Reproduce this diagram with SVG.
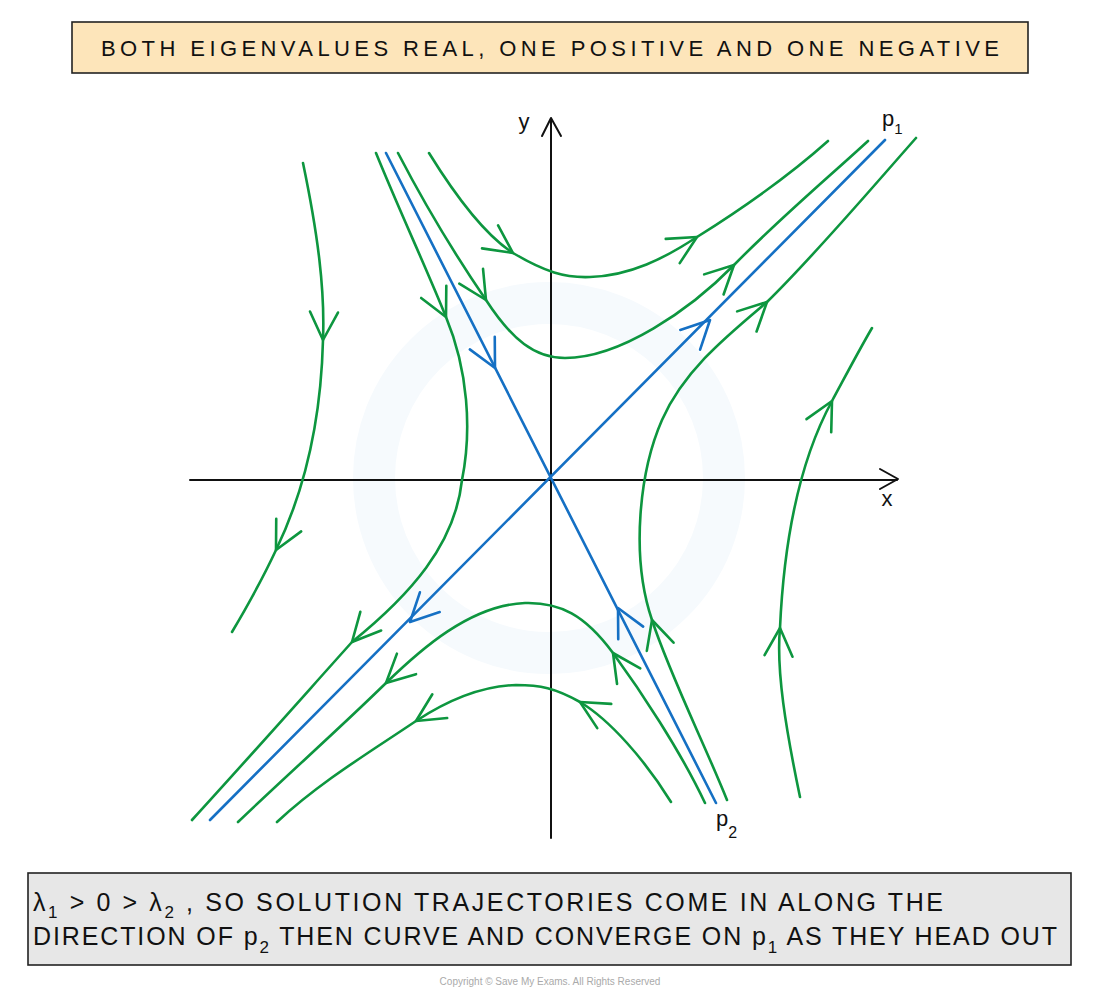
<svg xmlns="http://www.w3.org/2000/svg" xmlns:xlink="http://www.w3.org/1999/xlink" width="1100" height="995" viewBox="0 0 1100 995">
<style>
.g{fill:none;stroke:#0d963f;stroke-width:2.6;stroke-linecap:round;stroke-linejoin:round}
.b{fill:none;stroke:#1570c4;stroke-width:2.6;stroke-linecap:round;stroke-linejoin:round}
.ax{fill:none;stroke:#111;stroke-width:2;stroke-linecap:round;stroke-linejoin:round}
.t{font-family:"Liberation Sans",Arial,sans-serif;fill:#111}
</style>
<defs>
<path id="chev" d="M-28,-14 L0,0 L-28,14"/>
</defs>
<rect width="1100" height="995" fill="#ffffff"/>
<g id="watermark">
<circle cx="549" cy="478" r="175" fill="none" stroke="#f6fafd" stroke-width="42"/>
</g>
<g id="title">
<rect x="72" y="22" width="956" height="51" fill="#fde5ba" stroke="#222" stroke-width="1.6"/>
<text class="t" x="101" y="56" font-size="22" textLength="898" lengthAdjust="spacing">BOTH EIGENVALUES REAL, ONE POSITIVE AND ONE NEGATIVE</text>
</g>
<g id="axes">
<line class="ax" x1="190" y1="480" x2="897" y2="480"/>
<path class="ax" d="M880,469 L898,479 L880,489"/>
<line class="ax" x1="551" y1="838" x2="551" y2="119"/>
<path class="ax" d="M542,136 L551,118 L561,136"/>
<text class="t" x="524" y="129" font-size="22" text-anchor="middle">y</text>
<text class="t" x="887" y="506" font-size="22" text-anchor="middle">x</text>
</g>
<g id="eigenvectors">
<line class="b" x1="210" y1="820" x2="885" y2="140"/>
<line class="b" x1="386" y1="153" x2="716" y2="803"/>
<use xlink:href="#chev" class="b" transform="translate(495,368) rotate(63)"/>
<use xlink:href="#chev" class="b" transform="translate(618,608) rotate(-117)"/>
<use xlink:href="#chev" class="b" transform="translate(710,320) rotate(-45)"/>
<use xlink:href="#chev" class="b" transform="translate(410,622) rotate(135)"/>
<text class="t" x="882" y="126" font-size="22">p<tspan font-size="15" dy="8">1</tspan></text>
<text class="t" x="716" y="826" font-size="22">p<tspan font-size="16" dy="12">2</tspan></text>
</g>
<g id="trajectories">
<path class="g" d="M303,163 C318,235 325,290 323,340 C321,420 305,490 276,550 C262,580 248,605 232,632"/>
<path class="g" d="M376,153 C400,212 425,265 446,317 C468,370 472,430 462,480 C455,545 410,595 352,642 C300,700 245,762 192,820"/>
<path class="g" d="M398,153 C425,205 460,262 486,300 C512,340 535,358 565,358 C620,358 690,310 734,265 C780,218 830,176 868,141"/>
<path class="g" d="M429,153 C455,195 485,235 513,253 C545,272 565,278 590,277 C630,276 665,258 697,237 C740,210 790,175 828,141"/>
<path class="g" d="M727,800 C705,745 670,675 652,620 C630,555 640,470 662,420 C684,370 728,335 767,302 C815,255 870,190 916,138"/>
<path class="g" d="M800,797 C786,730 776,670 780,628 C784,540 800,460 832,401 C845,377 858,352 872,328"/>
<path class="g" d="M705,803 C680,750 640,690 613,653 C585,615 560,602 525,603 C470,605 420,650 386,683 C340,728 285,777 238,822"/>
<path class="g" d="M671,802 C645,760 610,720 580,702 C555,688 540,685 516,685 C480,686 445,702 416,721 C370,752 320,782 277,822"/>
<use xlink:href="#chev" class="g" transform="translate(323,340) rotate(92)"/>
<use xlink:href="#chev" class="g" transform="translate(276,550) rotate(117)"/>
<use xlink:href="#chev" class="g" transform="translate(446,317) rotate(64)"/>
<use xlink:href="#chev" class="g" transform="translate(486,300) rotate(58)"/>
<use xlink:href="#chev" class="g" transform="translate(513,253) rotate(35)"/>
<use xlink:href="#chev" class="g" transform="translate(697,237) rotate(-30)"/>
<use xlink:href="#chev" class="g" transform="translate(734,265) rotate(-44)"/>
<use xlink:href="#chev" class="g" transform="translate(767,302) rotate(-44)"/>
<use xlink:href="#chev" class="g" transform="translate(832,401) rotate(-62)"/>
<use xlink:href="#chev" class="g" transform="translate(780,628) rotate(-87)"/>
<use xlink:href="#chev" class="g" transform="translate(652,620) rotate(-107)"/>
<use xlink:href="#chev" class="g" transform="translate(613,653) rotate(-124)"/>
<use xlink:href="#chev" class="g" transform="translate(580,702) rotate(-150)"/>
<use xlink:href="#chev" class="g" transform="translate(416,721) rotate(148)"/>
<use xlink:href="#chev" class="g" transform="translate(386,683) rotate(137)"/>
<use xlink:href="#chev" class="g" transform="translate(352,642) rotate(132)"/>
</g>
<g id="caption">
<rect x="28" y="873" width="1043" height="92" fill="#e7e7e7" stroke="#222" stroke-width="1.6"/>
<text class="t" x="33" y="911" font-size="25" textLength="910" lengthAdjust="spacing">λ<tspan font-size="17" dy="7">1</tspan><tspan dy="-7"> &gt; 0 &gt; λ</tspan><tspan font-size="17" dy="7">2</tspan><tspan dy="-7"> , SO SOLUTION TRAJECTORIES COME IN ALONG THE</tspan></text>
<text class="t" x="33" y="945" font-size="25" textLength="1024" lengthAdjust="spacing">DIRECTION OF p<tspan font-size="17" dy="8">2</tspan><tspan dy="-8"> THEN CURVE AND CONVERGE ON p</tspan><tspan font-size="17" dy="8">1</tspan><tspan dy="-8"> AS THEY HEAD OUT</tspan></text>
</g>
<text class="t" x="550" y="985" font-size="10" text-anchor="middle" style="fill:#aaaaaa">Copyright © Save My Exams. All Rights Reserved</text>
</svg>
